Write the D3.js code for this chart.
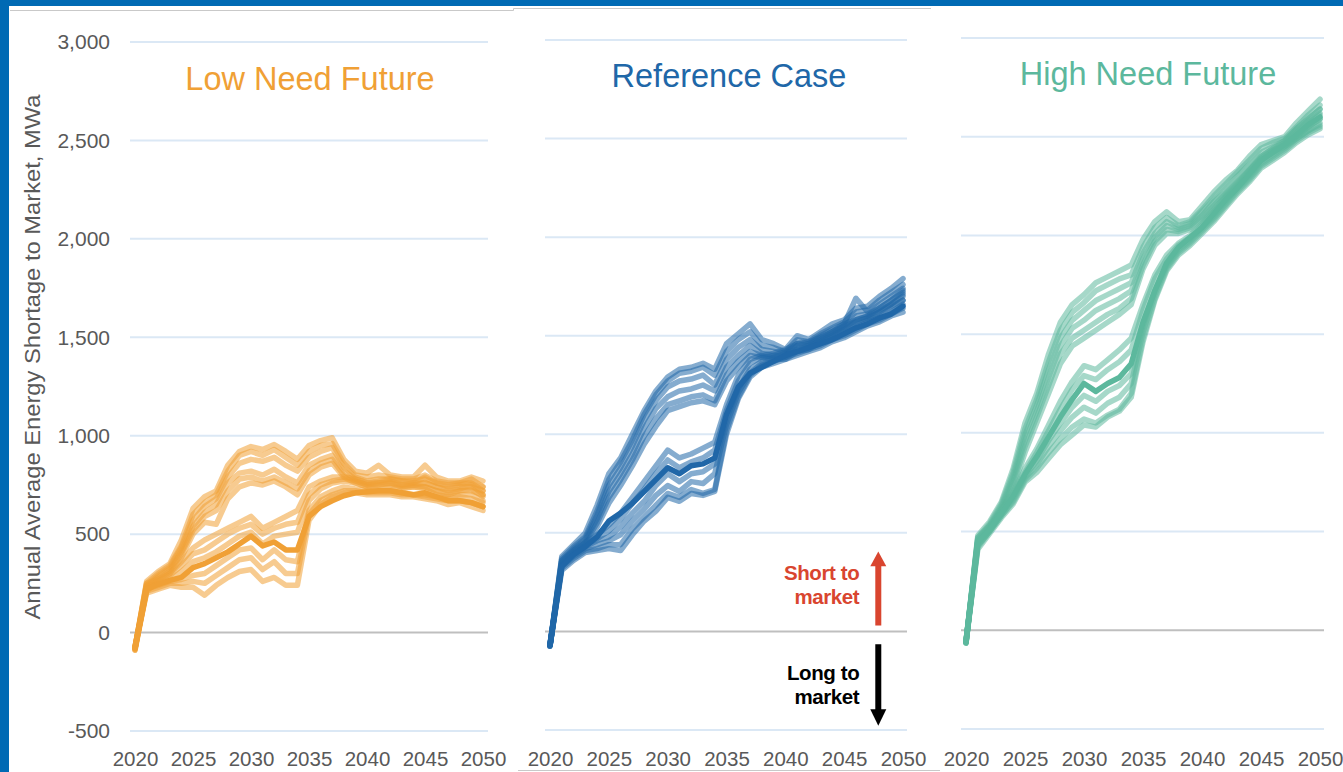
<!DOCTYPE html>
<html>
<head>
<meta charset="utf-8">
<script src="https://cdn.jsdelivr.net/npm/d3@7/dist/d3.min.js"></script>
<style>
  body { margin: 0; background: #fff; }
  text { font-family: "Liberation Sans", Arial, sans-serif; }
</style>
</head>
<body>
<svg id="chart" width="1343" height="772"></svg>
<script>
// years on the x axis
var years = [2020, 2021, 2022, 2023, 2024, 2025, 2026, 2027, 2028, 2029, 2030,
             2031, 2032, 2033, 2034, 2035, 2036, 2037, 2038, 2039, 2040,
             2041, 2042, 2043, 2044, 2045, 2046, 2047, 2048, 2049, 2050];
var xTicks = [2020, 2025, 2030, 2035, 2040, 2045, 2050];
var yTicks = [-500, 0, 500, 1000, 1500, 2000, 2500, 3000];
var titles = ["Low Need Future", "Reference Case", "High Need Future"];

// Low Need Future - simulated runs (MWa)
var lowNeedRuns = [
  [-80,260,310,350,470,630,690,720,850,920,945,930,955,920,880,950,975,990,880,820,810,850,800,790,790,850,790,770,770,790,770],
  [-75,250,300,340,440,600,660,700,820,900,920,900,930,890,850,920,950,960,860,800,790,800,790,780,780,800,770,760,760,780,740],
  [-85,240,290,330,430,570,640,680,790,860,880,870,890,850,820,890,920,940,840,790,770,780,780,770,770,780,760,740,750,760,720],
  [-80,230,280,320,410,540,610,650,760,810,820,800,830,790,760,850,880,900,820,780,760,760,770,750,760,760,740,720,730,750,700],
  [-90,220,270,310,400,520,590,620,720,780,790,770,790,760,730,820,860,880,800,770,750,750,760,740,750,740,720,700,720,730,690],
  [-70,210,260,300,380,500,560,550,680,740,760,750,770,740,700,800,840,860,790,760,740,730,740,730,740,730,700,690,700,700,670],
  [-80,250,270,300,360,430,470,500,530,560,590,530,560,590,620,740,770,790,790,780,760,770,780,770,760,790,760,750,760,760,740],
  [-75,240,260,290,340,400,420,460,500,530,550,500,530,550,560,700,750,770,780,770,750,760,760,750,750,760,740,730,740,740,720],
  [-85,230,250,270,310,360,380,410,450,490,510,450,490,500,510,670,730,760,770,760,740,750,750,740,740,740,720,710,720,720,700],
  [-80,220,240,260,270,290,300,340,380,420,430,370,420,370,360,620,690,720,740,730,720,720,720,710,700,700,690,680,690,680,660],
  [-90,210,230,250,250,260,250,290,330,370,380,320,360,300,300,600,670,700,720,720,710,710,710,700,700,690,680,670,670,660,640],
  [-70,200,220,240,230,230,190,240,280,310,320,260,280,240,240,570,650,690,710,710,700,700,700,690,690,680,670,650,660,640,620]
];
var lowNeedMain = [-80,220,245,265,280,330,350,380,410,450,490,440,460,420,420,590,640,670,695,710,715,720,720,710,700,710,690,670,670,660,640];

// Reference Case - simulated runs (MWa)
var referenceRuns = [
  [-70,380,440,500,640,800,880,1000,1120,1220,1290,1330,1340,1360,1330,1460,1510,1560,1480,1460,1430,1500,1480,1520,1560,1580,1640,1650,1700,1740,1790],
  [-75,370,430,480,610,770,860,970,1100,1200,1270,1310,1320,1340,1300,1420,1480,1520,1450,1440,1420,1480,1470,1510,1540,1570,1620,1630,1680,1720,1760],
  [-65,360,420,470,590,740,830,940,1070,1170,1240,1270,1280,1300,1250,1380,1440,1480,1430,1420,1410,1460,1460,1500,1530,1560,1690,1620,1660,1700,1740],
  [-70,350,410,460,570,710,800,900,1030,1130,1190,1220,1230,1250,1220,1340,1400,1450,1410,1400,1400,1450,1450,1490,1520,1550,1600,1610,1640,1680,1720],
  [-75,340,400,450,550,680,770,870,990,1080,1150,1170,1190,1200,1170,1300,1370,1420,1400,1390,1390,1430,1440,1480,1510,1540,1580,1600,1630,1660,1700],
  [-65,330,390,440,530,650,740,840,950,1040,1120,1140,1160,1170,1150,1270,1340,1400,1390,1380,1380,1420,1430,1470,1500,1530,1570,1590,1620,1650,1680],
  [-70,360,410,450,490,540,600,680,760,840,920,880,900,930,960,1150,1300,1380,1400,1410,1430,1460,1470,1490,1520,1560,1580,1600,1640,1680,1730],
  [-75,350,400,440,470,510,570,650,720,800,870,830,860,880,920,1120,1270,1360,1390,1400,1420,1450,1460,1480,1510,1550,1570,1590,1620,1660,1710],
  [-65,340,390,430,460,480,530,600,660,740,800,760,800,810,850,1080,1230,1330,1370,1390,1410,1430,1450,1470,1500,1530,1550,1580,1600,1640,1680],
  [-70,330,380,420,440,460,490,560,620,690,740,710,760,750,800,1050,1210,1310,1360,1380,1400,1420,1440,1460,1490,1520,1540,1570,1590,1620,1660],
  [-75,320,370,410,420,440,440,520,580,640,700,680,720,700,720,1020,1190,1300,1350,1370,1390,1410,1430,1450,1480,1500,1530,1560,1580,1610,1640],
  [-70,310,360,400,410,420,410,490,560,610,680,660,700,690,710,1000,1180,1290,1340,1360,1380,1400,1420,1440,1470,1490,1520,1550,1570,1600,1620]
];
var referenceMain = [-70,330,390,430,480,560,600,650,710,770,830,800,840,850,880,1100,1240,1310,1340,1370,1400,1420,1440,1460,1480,1510,1540,1560,1590,1610,1650];

// High Need Future - simulated runs (MWa)
var highNeedRuns = [
  [-60,480,550,650,820,1050,1200,1400,1560,1650,1700,1760,1790,1820,1850,1980,2070,2120,2070,2080,2150,2220,2280,2330,2400,2460,2480,2500,2570,2630,2690],
  [-65,470,540,640,800,1020,1170,1360,1520,1610,1660,1720,1750,1780,1800,1940,2040,2090,2050,2070,2130,2200,2260,2320,2380,2440,2470,2490,2550,2610,2660],
  [-55,460,530,630,780,990,1140,1320,1480,1570,1620,1670,1700,1730,1760,1910,2010,2070,2040,2060,2120,2180,2240,2300,2360,2420,2450,2480,2540,2590,2640],
  [-60,450,520,620,760,960,1110,1280,1440,1530,1570,1620,1650,1680,1720,1880,1990,2050,2030,2050,2100,2170,2220,2280,2340,2400,2440,2470,2520,2570,2610],
  [-65,440,510,610,740,930,1080,1240,1400,1480,1520,1560,1600,1630,1680,1850,1970,2030,2020,2040,2090,2150,2210,2270,2330,2390,2430,2460,2500,2550,2590],
  [-55,430,500,600,720,900,1050,1200,1350,1440,1480,1520,1560,1600,1650,1830,1950,2010,2010,2030,2080,2140,2200,2260,2320,2380,2420,2450,2490,2530,2560],
  [-60,470,530,610,700,820,920,1040,1160,1260,1340,1320,1370,1420,1480,1650,1800,1900,1960,2000,2060,2130,2200,2260,2330,2400,2440,2480,2540,2590,2640],
  [-65,460,520,600,690,800,900,1010,1120,1220,1290,1270,1320,1360,1420,1620,1780,1880,1950,1990,2050,2120,2190,2250,2320,2390,2430,2470,2530,2580,2620],
  [-55,440,510,590,670,780,860,960,1050,1130,1190,1160,1210,1240,1300,1540,1720,1850,1930,1980,2040,2100,2170,2240,2300,2370,2410,2450,2500,2550,2590],
  [-60,430,500,580,660,770,840,930,1010,1080,1130,1100,1150,1180,1250,1510,1700,1840,1920,1970,2030,2090,2160,2230,2290,2360,2400,2440,2490,2530,2570],
  [-65,420,500,580,650,760,820,900,970,1030,1070,1050,1090,1120,1200,1480,1680,1830,1910,1960,2020,2080,2150,2220,2280,2350,2390,2430,2480,2520,2550],
  [-55,410,490,570,640,750,800,870,940,990,1040,1030,1080,1110,1180,1460,1670,1820,1900,1950,2010,2070,2140,2210,2270,2340,2380,2420,2470,2510,2540]
];
var highNeedMain = [-60,450,510,590,680,790,880,980,1080,1170,1250,1210,1250,1280,1350,1560,1720,1860,1940,1990,2040,2110,2180,2240,2310,2380,2420,2460,2510,2560,2600];

// layout of the three panels (pixels)
var panels = [
  { title: titles[0], color: "#F0A035", runs: lowNeedRuns, main: lowNeedMain,
    grid: [130, 488], xr: [135, 483], yr: [731, 42], titleX: 310, titleY: 90 },
  { title: titles[1], color: "#2067A8", runs: referenceRuns, main: referenceMain,
    grid: [545, 907], xr: [550, 903], yr: [730, 40], titleX: 729, titleY: 87 },
  { title: titles[2], color: "#5CB89D", runs: highNeedRuns, main: highNeedMain,
    grid: [961, 1324], xr: [966, 1320], yr: [729, 38], titleX: 1148, titleY: 85 }
];

var fmtY = function (d) { return d3.format(",")(d).replace("\u2212", "-"); };

var svg = d3.select("#chart");

// white page with thin grey panel edges
svg.append("rect").attr("width", 1343).attr("height", 772).attr("fill", "#fff");
svg.append("path")
    .attr("d", "M10,10.5H513.5V8.5H931")
    .attr("fill", "none").attr("stroke", "#c9c9c9").attr("stroke-width", 1);
svg.append("path")
    .attr("d", "M518,770.5H940")
    .attr("fill", "none").attr("stroke", "#c9c9c9").attr("stroke-width", 1);

panels.forEach(function (p, i) {
    var x = d3.scaleLinear().domain([2020, 2050]).range(p.xr);
    var y = d3.scaleLinear().domain([-500, 3000]).range(p.yr);
    var g = svg.append("g");

    // gridlines
    g.selectAll(".grid")
        .data(yTicks)
        .enter()
        .append("line")
        .attr("x1", p.grid[0])
        .attr("x2", p.grid[1])
        .attr("y1", d => y(d))
        .attr("y2", d => y(d))
        .attr("stroke", d => d === 0 ? "#bfbfbf" : "#dbe8f5")
        .attr("stroke-width", 2);

    // title
    g.append("text")
        .attr("x", p.titleX)
        .attr("y", p.titleY)
        .attr("text-anchor", "middle")
        .attr("font-size", 32.5)
        .attr("fill", p.color)
        .text(p.title);

    var line = d3.line()
        .x((d, j) => x(years[j]))
        .y(d => y(d));

    g.selectAll(".run")
        .data(p.runs)
        .enter()
        .append("path")
        .attr("d", line)
        .attr("fill", "none")
        .attr("stroke", p.color)
        .attr("stroke-width", 5.5)
        .attr("stroke-linejoin", "round")
        .attr("stroke-linecap", "round")
        .attr("opacity", 0.55);

    g.append("path")
        .datum(p.main)
        .attr("d", line)
        .attr("fill", "none")
        .attr("stroke", p.color)
        .attr("stroke-width", 5.5)
        .attr("stroke-linejoin", "round")
        .attr("stroke-linecap", "round");

    // x axis labels
    var xa = g.append("g")
        .attr("transform", "translate(0,745)")
        .call(d3.axisBottom(x).tickValues(xTicks).tickSize(0).tickPadding(6).tickFormat(d3.format("d")));
    xa.select(".domain").remove();
    xa.selectAll("text")
        .attr("font-size", 20.5)
        .attr("font-family", "Liberation Sans, Arial, sans-serif")
        .attr("fill", "#595959");

    // y axis labels only on first panel
    if (i === 0) {
        var ya = g.append("g")
            .attr("transform", "translate(118,0)")
            .call(d3.axisLeft(y).tickValues(yTicks).tickSize(0).tickPadding(8).tickFormat(fmtY));
        ya.select(".domain").remove();
        ya.selectAll("text")
            .attr("font-size", 21)
            .attr("font-family", "Liberation Sans, Arial, sans-serif")
            .attr("fill", "#595959");

        g.append("text")
            .attr("transform", "translate(40,357) rotate(-90)")
            .attr("text-anchor", "middle")
            .attr("font-size", 22)
            .attr("textLength", 525)
            .attr("lengthAdjust", "spacingAndGlyphs")
            .attr("fill", "#595959")
            .text("Annual  Average Energy Shortage to Market, MWa");
    }

    // short / long annotation in the middle panel
    if (i === 1) {
        var ax = x(2047.9);
        g.append("line")
            .attr("x1", ax).attr("x2", ax)
            .attr("y1", y(30)).attr("y2", y(360))
            .attr("stroke", "#D9452F").attr("stroke-width", 6);
        g.append("path")
            .attr("d", "M" + (ax - 8) + "," + y(330) + "L" + ax + "," + y(405) + "L" + (ax + 8) + "," + y(330) + "Z")
            .attr("fill", "#D9452F");
        g.append("line")
            .attr("x1", ax).attr("x2", ax)
            .attr("y1", y(-65)).attr("y2", y(-420))
            .attr("stroke", "#000").attr("stroke-width", 6);
        g.append("path")
            .attr("d", "M" + (ax - 8) + "," + y(-395) + "L" + ax + "," + y(-478) + "L" + (ax + 8) + "," + y(-395) + "Z")
            .attr("fill", "#000");

        var notes = [["Short to", "market", "#D9452F", 580], ["Long to", "market", "#000", 680]];
        notes.forEach(function (n) {
            var t = g.append("text")
                .attr("x", ax - 19)
                .attr("y", n[3])
                .attr("text-anchor", "end")
                .attr("font-size", 20.5)
                .attr("font-weight", "bold")
                .attr("letter-spacing", -0.4)
                .attr("fill", n[2]);
            t.append("tspan").attr("x", ax - 19).text(n[0]);
            t.append("tspan").attr("x", ax - 19).attr("dy", 24).text(n[1]);
        });
    }
});

// blue frame on top
svg.append("rect").attr("x", 0).attr("y", 0).attr("width", 1343).attr("height", 6).attr("fill", "#006AB4");
svg.append("rect").attr("x", 0).attr("y", 0).attr("width", 9).attr("height", 772).attr("fill", "#006AB4");
</script>
</body>
</html>
